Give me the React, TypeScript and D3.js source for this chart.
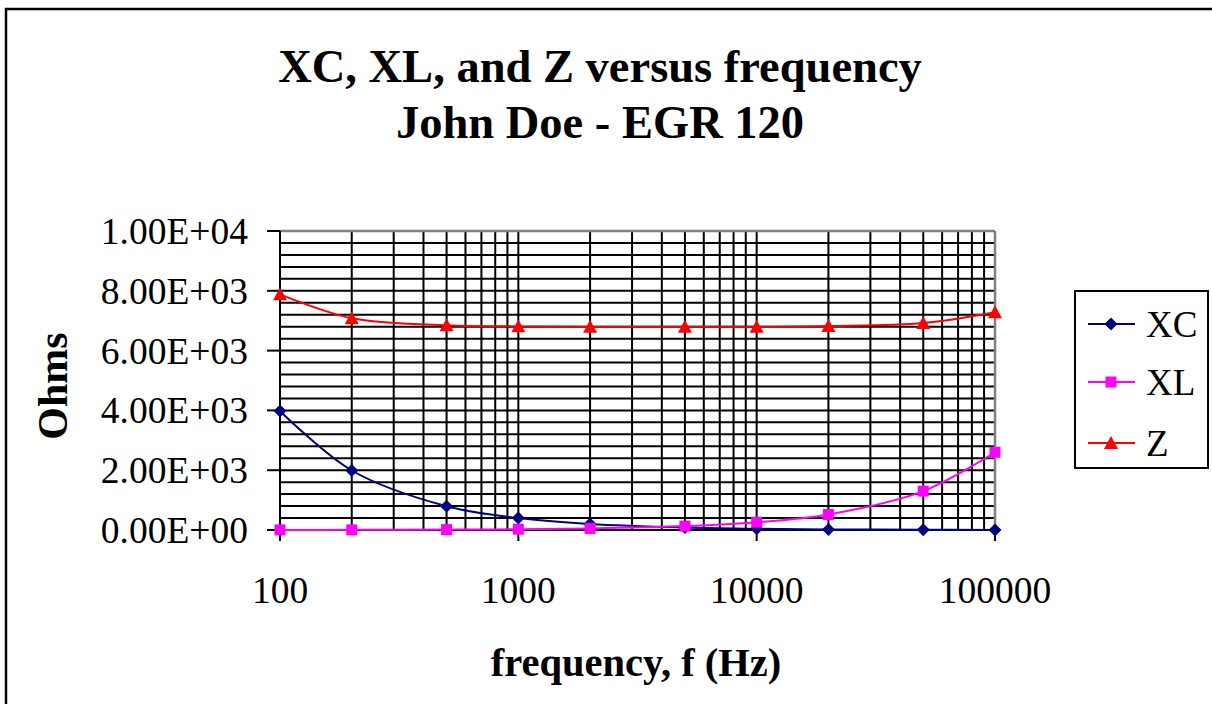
import React from "react";
import * as d3 from "d3";

const frequencies = [100, 200, 500, 1000, 2000, 5000, 10000, 20000, 50000, 100000];
const xcValues = [3980, 1990, 796, 398, 199, 80, 40, 20, 8, 4];
const xlValues = [2.6, 5.2, 13, 26, 52, 130, 260, 520, 1300, 2600];
const zValues = [7880, 7080, 6850, 6810, 6800, 6800, 6800, 6820, 6920, 7280];
const yTicks = [0, 2000, 4000, 6000, 8000, 10000];
const xTickLabels = [100, 1000, 10000, 100000];
const seriesNames = ["XC", "XL", "Z"];

const W = 1212;
const H = 704;
const left = 280, right = 995, top = 231, bottom = 530;
const FONT = "'Liberation Serif', 'Times New Roman', serif";

export default function App() {
  const x = d3.scaleLog().domain([100, 100000]).range([left, right]);
  const y = d3.scaleLinear().domain([0, 10000]).range([bottom, top]);

  const minorX: number[] = [];
  for (let dec = 100; dec < 100000; dec *= 10) {
    for (let k = 1; k <= 9; k++) minorX.push(dec * k);
  }
  minorX.push(100000);
  const minorY = d3.range(0, 10001, 400);

  const line = d3
    .line<number>()
    .x((_, i) => x(frequencies[i]))
    .y((v) => y(v))
    .curve(d3.curveCatmullRom.alpha(0.5));

  const series = [
    { name: seriesNames[0], values: xcValues, color: "#000080", marker: "diamond" },
    { name: seriesNames[1], values: xlValues, color: "#FF00FF", marker: "square" },
    { name: seriesNames[2], values: zValues, color: "#FF0000", marker: "triangle" },
  ];

  const marker = (type: string, cx: number, cy: number, color: string, key: string) => {
    if (type === "diamond") {
      const s = 6.5;
      return (
        <path key={key} d={`M${cx},${cy - s}L${cx + s},${cy}L${cx},${cy + s}L${cx - s},${cy}Z`} fill={color} />
      );
    }
    if (type === "square") {
      const s = 5.5;
      return <rect key={key} x={cx - s} y={cy - s} width={2 * s} height={2 * s} fill={color} />;
    }
    const s = 7;
    return (
      <path key={key} d={`M${cx},${cy - s}L${cx + s},${cy + s * 0.85}L${cx - s},${cy + s * 0.85}Z`} fill={color} />
    );
  };

  const fmt = (v: number) => {
    const s = v.toExponential(2).toUpperCase();
    return s.replace(/E([+-])(\d)$/, "E$10$2");
  };

  const legendRows = [324, 382, 443];

  return (
    <svg width={W} height={H} style={{ position: "absolute", left: 0, top: 0, background: "#fff" }}>
      <rect x={6} y={9} width={W + 10} height={H + 10} fill="#fff" stroke="#000" strokeWidth={2.5} />

      <text x={600} y={82} textAnchor="middle" fontFamily={FONT} fontWeight="bold" fontSize={46.5}>
        XC, XL, and Z versus frequency
      </text>
      <text x={600} y={138} textAnchor="middle" fontFamily={FONT} fontWeight="bold" fontSize={46.5}>
        John Doe - EGR 120
      </text>

      {/* grid */}
      {minorY.map((v) => (
        <line key={"gy" + v} x1={left} x2={right} y1={y(v)} y2={y(v)} stroke="#000" strokeWidth={2} />
      ))}
      {minorX.map((v) => (
        <line key={"gx" + v} x1={x(v)} x2={x(v)} y1={top} y2={bottom} stroke="#000" strokeWidth={2} />
      ))}
      <line x1={left} x2={right} y1={top} y2={top} stroke="#808080" strokeWidth={2.5} />
      <line x1={right} x2={right} y1={top} y2={bottom} stroke="#808080" strokeWidth={2.5} />
      <line x1={left} x2={left} y1={top} y2={bottom} stroke="#000" strokeWidth={2} />
      <line x1={left} x2={right} y1={bottom} y2={bottom} stroke="#000" strokeWidth={2} />

      {/* y ticks */}
      {yTicks.map((v) => (
        <g key={"yt" + v}>
          <line x1={267} x2={left} y1={y(v)} y2={y(v)} stroke="#000" strokeWidth={2} />
          <text x={248} y={y(v) + 13} textAnchor="end" fontFamily={FONT} fontSize={37.5}>
            {fmt(v)}
          </text>
        </g>
      ))}
      {/* x ticks */}
      {xTickLabels.map((v) => (
        <g key={"xt" + v}>
          <line x1={x(v)} x2={x(v)} y1={bottom} y2={bottom + 11} stroke="#000" strokeWidth={2} />
          <text x={x(v)} y={603} textAnchor="middle" fontFamily={FONT} fontSize={37.5}>
            {v}
          </text>
        </g>
      ))}

      <text x={636} y={676} textAnchor="middle" fontFamily={FONT} fontWeight="bold" fontSize={40.5}>
        frequency, f (Hz)
      </text>
      <text
        transform={`translate(67,386) rotate(-90)`}
        textAnchor="middle"
        fontFamily={FONT}
        fontWeight="bold"
        fontSize={42}
      >
        Ohms
      </text>

      {/* series */}
      {series.map((s) => (
        <g key={s.name}>
          <path d={line(s.values) || ""} fill="none" stroke={s.color} strokeWidth={2} />
          {s.values.map((v, i) => marker(s.marker, x(frequencies[i]), y(v), s.color, s.name + i))}
        </g>
      ))}

      {/* legend */}
      <rect x={1075} y={291} width={133} height={177} fill="#fff" stroke="#000" strokeWidth={2} />
      {series.map((s, i) => (
        <g key={"lg" + s.name}>
          <line x1={1088} x2={1135} y1={legendRows[i]} y2={legendRows[i]} stroke={s.color} strokeWidth={2} />
          {marker(s.marker, 1111, legendRows[i], s.color, "lm" + i)}
          <text x={1146} y={legendRows[i] + 13} fontFamily={FONT} fontSize={37}>
            {s.name}
          </text>
        </g>
      ))}
    </svg>
  );
}
